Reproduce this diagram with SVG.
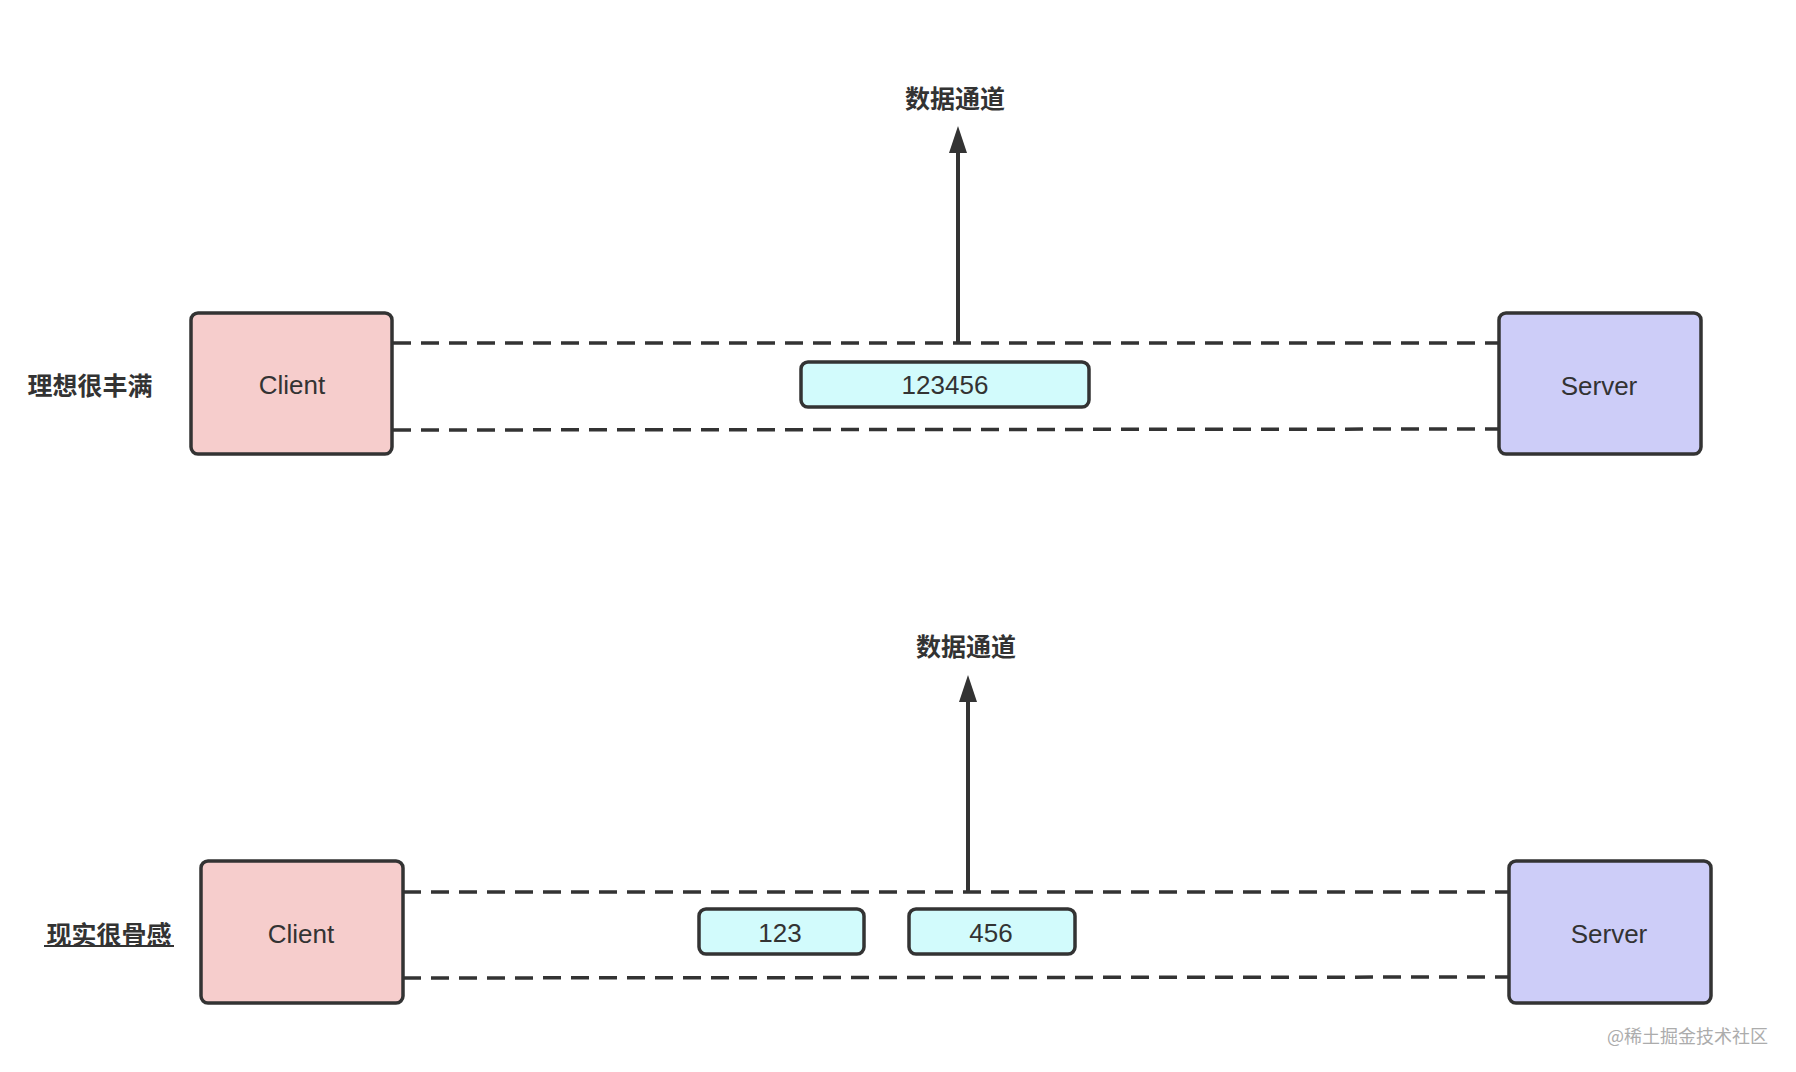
<svg xmlns="http://www.w3.org/2000/svg" width="1796" height="1072" viewBox="0 0 1796 1072">
<style>
.node{stroke:#333333;stroke-width:3.5}
.client{fill:#f6cdcc}
.server{fill:#cdcdf8}
.pkt{fill:#d2fbfc}
.lbl{font-family:"Liberation Sans","Noto Sans",sans-serif;font-size:26px;fill:#333333;text-anchor:middle;dominant-baseline:central}
.cjk{font-family:"Noto Sans CJK SC",sans-serif;font-size:25px;font-weight:bold;fill:#333333;text-anchor:middle;dominant-baseline:central}
.dash{stroke:#333333;stroke-width:3.5;stroke-dasharray:18 10;fill:none}
.shaft{stroke:#333333;stroke-width:4;fill:none}
.head{fill:#333333}
</style>
<rect x="0" y="0" width="1796" height="1072" fill="#ffffff"/>

<g id="connectors">
  <line class="dash" x1="393" y1="343" x2="1499" y2="343"/>
  <line class="dash" x1="393" y1="430" x2="1499" y2="429"/>
  <line class="shaft" x1="958" y1="343" x2="958" y2="150"/>
  <polygon class="head" points="958,126 967,153 949,153"/>
  <line class="dash" x1="403" y1="892" x2="1509" y2="892"/>
  <line class="dash" x1="403" y1="978" x2="1509" y2="977"/>
  <line class="shaft" x1="968" y1="892" x2="968" y2="699"/>
  <polygon class="head" points="968,675 977,702 959,702"/>
</g>

<g id="title-top"><text class="cjk" x="955" y="97">数据通道</text></g>
<g id="label-ideal"><text class="cjk" x="90" y="384">理想很丰满</text></g>

<g id="client-top">
  <rect class="node client" x="191" y="313" width="201" height="141" rx="7"/>
  <text class="lbl" x="292" y="385">Client</text>
</g>
<g id="packet-123456">
  <rect class="node pkt" x="801" y="362" width="288" height="45" rx="7"/>
  <text class="lbl" x="945" y="385">123456</text>
</g>
<g id="server-top">
  <rect class="node server" x="1499" y="313" width="202" height="141" rx="7"/>
  <text class="lbl" x="1599" y="386">Server</text>
</g>

<g id="title-bottom"><text class="cjk" x="966" y="645">数据通道</text></g>
<g id="label-reality">
  <text class="cjk" x="109" y="933">现实很骨感</text>
  <line x1="44" y1="946" x2="174" y2="946" stroke="#333333" stroke-width="2"/>
</g>

<g id="client-bottom">
  <rect class="node client" x="201" y="861" width="202" height="142" rx="7"/>
  <text class="lbl" x="301" y="934">Client</text>
</g>
<g id="packet-123">
  <rect class="node pkt" x="699" y="909" width="165" height="45" rx="7"/>
  <text class="lbl" x="780" y="933">123</text>
</g>
<g id="packet-456">
  <rect class="node pkt" x="909" y="909" width="166" height="45" rx="7"/>
  <text class="lbl" x="991" y="933">456</text>
</g>
<g id="server-bottom">
  <rect class="node server" x="1509" y="861" width="202" height="142" rx="7"/>
  <text class="lbl" x="1609" y="934">Server</text>
</g>

<g id="watermark">
  <text x="1768" y="1035" font-family="Noto Sans CJK SC, sans-serif" font-size="18" fill="#acacac" text-anchor="end" dominant-baseline="central">@稀土掘金技术社区</text>
</g>
</svg>
